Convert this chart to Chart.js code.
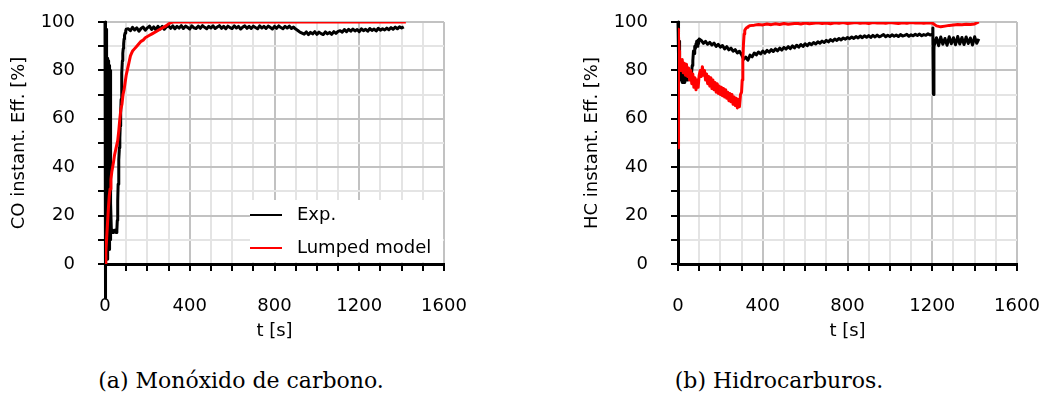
<!DOCTYPE html>
<html>
<head>
<meta charset="utf-8">
<script src="https://cdn.jsdelivr.net/npm/chart.js@4.4.1/dist/chart.umd.min.js"></script>
<style>
  body { margin: 0; background: #fff; width: 1039px; height: 413px; position: relative; overflow: hidden; }
  .panel { position: absolute; top: 0; width: 470px; height: 350px; }
  .caption { position: absolute; top: 368px; font-family: 'DejaVu Serif', serif; font-size: 22px; color: #000;
             white-space: nowrap; transform: translateX(-50%); }
</style>
</head>
<body>
<div class="panel" style="left:0"><canvas id="coChart"></canvas></div>
<div class="panel" style="left:573px"><canvas id="hcChart"></canvas></div>
<div class="caption" style="left:241px">(a) Monóxido de carbono.</div>
<div class="caption" style="left:779px">(b) Hidrocarburos.</div>
<script>
// ---- CO instantaneous efficiency [%] ----
// measured: start-up transient, then a steady run sampled every 10 s from 110 s
const coExpTime = [0,1,2,3,4,5,6,7,8,9,10,11,12,13,14,15,16,17,18,19,20,21,22,23,24,25,
  26,28,30,33,36,40,44,48,52,56,58,60,62,64,66,68,70,72,74,76,78,80,82,84,86,88,90,92,95,98,100];
const coExpEff = [100,40,-14,-5,70,97,92,50,5,60, 85,80,15,2,55,84,78,20,8,62, 82,40,6,45,80,60,
  10,25,14,13,14,13,13.5,14,13,14, 18,26,33,38,43,48,52,57,62,68, 74,79,84,87,89,91,93,94.5,95.5,96.5, 97];
const coExpSteady = [
  97.2, 96.4, 97.8, 96.7, 97.6, 96.2, 97.3, 97.9, 96.6, 97.6,
  98.3, 96.9, 98.0, 96.8, 98.2, 97.1, 98.2, 97.0, 98.0, 98.4,
  97.4, 98.4, 97.2, 98.2, 97.5, 98.5, 97.3, 98.3, 97.8, 97.1,
  98.4, 97.6, 97.3, 98.3, 97.4, 98.5, 97.8, 97.2, 98.2, 97.5,
  98.4, 97.3, 97.9, 98.5, 97.4, 98.2, 97.2, 98.3, 97.7, 97.3,
  98.4, 97.5, 98.2, 97.1, 97.9, 98.4, 97.4, 98.2, 97.3, 98.3,
  97.7, 97.2, 98.4, 97.5, 98.2, 97.3, 98.3, 97.8, 97.1, 98.2,
  97.4, 98.4, 97.7, 97.2, 98.2, 97.5, 98.3, 97.3, 97.9, 97.1,
  96.5, 95.8, 95.4, 95.0, 95.9, 94.8, 95.7, 95.1, 96.0, 94.9,
  95.8, 95.2, 94.8, 95.9, 95.1, 95.7, 94.9, 96.0, 95.3, 96.1,
  96.4, 95.8, 96.9, 96.0, 97.0, 96.2, 97.1, 96.3, 96.9, 96.0,
  97.2, 96.4, 97.0, 96.2, 97.3, 96.5, 97.1, 96.3, 97.4, 96.6,
  97.2, 96.7, 97.5, 96.8, 97.7, 97.0, 97.9, 97.2, 98.0, 97.5,
  98.0];

// lumped model
const coModelTime = [0,4,8,12,16,20,24,28,32,36, 40,45,50,55,60,65,70,75,80,85,
  90,95,100,105,110,115,120,125,130,140, 150,160,170,180,190,200,210,220,230,240,
  250,260,270,280,290,300,310,320,330,340, 1420];
const coModelEff = [0,5,11,17,23,28,31,35,38,40, 42,45,47,49,51,55,60,64,66,70,
  72,75,78,80,82,84,86,87,88,89, 90,91,92,92.5,93.5,94,94.5,95,95.5,96,
  96.5,97,97.5,98,98.5,99.2,99.7,100,100,100, 100];

// ---- HC instantaneous efficiency [%] ----
const hcExpTime = [0,1,2,3,4,5,6,7,8,9, 10,12,14,16,18,20,22,24,26,28,30,32,34,36,38,40,
  43,46,49,52,55,58,61,64,67,70,73,76,79,82,85,88,91,94,97,100];
const hcExpEff = [100,97,90,95,86,92,80,88,77,84, 79,76,82,78,80,75,79,77,81,76,78,75,79,76,80,77,
  79,76,80,78,79,77,80,79,82,84,88,87,90,89,91,92,90,92.5,91,93];
// every 10 s from 110 s to 1200 s
const hcExpSteady = [
  92.4, 91.2, 92.0, 90.8, 91.6, 90.5, 91.3, 89.9, 90.8, 89.6,
  90.3, 88.9, 89.8, 88.5, 89.2, 87.9, 88.6, 87.2, 87.9, 86.5,
  84.6, 85.5, 84.2, 86.3, 85.6, 87.2, 86.4, 87.6, 86.8, 88.0,
  87.1, 88.3, 87.5, 88.6, 87.8, 88.9, 88.1, 89.2, 88.4, 89.5,
  88.8, 89.8, 89.0, 90.1, 89.3, 90.4, 89.6, 90.7, 89.9, 91.0,
  90.2, 91.2,
  90.6, 91.5, 90.9, 91.8, 91.2, 92.1, 91.5, 92.4, 91.8, 92.7,
  92.1, 93.0, 92.4, 93.2, 92.6, 93.4, 92.9, 93.6, 93.1, 93.8,
  93.2, 94.0, 93.4, 94.2, 93.5, 94.3, 93.7, 94.4, 93.6, 94.5,
  93.8, 94.6, 93.9, 94.3, 94.8, 93.9, 94.5, 94.0, 94.7, 94.1,
  94.6, 94.0, 94.8, 94.2, 94.5, 94.9, 94.1, 94.7, 94.3, 94.9,
  94.4, 95.0, 94.3, 94.8, 94.5, 95.1, 94.6, 95.0];
const hcExpDropTime = [1203, 1206, 1208, 1209];
const hcExpDropEff = [97.5, 70, 88, 92];
// every 10 s from 1210 s
const hcExpTail = [90.5, 93.5, 90.2, 93.8, 90.8, 93.2, 90.4, 93.9, 91.0, 93.5, 90.6,
  94.0, 90.9, 93.6, 90.7, 93.8, 91.1, 93.4, 90.5, 93.9, 91.2, 93.0];

const hcModelTime = [0,1,2,3,4,5,6,7,8,9];
const hcModelEff = [48,60,80,97,94,88,84,80,85,82];
// every 5 s from 10 s to 300 s
const hcModelEarly = [
  84, 80, 84.5, 79, 83, 78, 82.5, 77.5, 81, 76,
  80, 74.5, 78.5, 73, 77, 72, 76, 73, 78, 80,
  77.5, 81.5, 78, 80, 76, 78.5, 74.5, 77.5, 73.5, 77,
  72.5, 76, 72, 75, 71, 74.5, 70.5, 73.5, 70, 73,
  69.5, 72.5, 69, 72, 68.5, 71, 67.5, 70.5, 67, 70,
  66, 69, 65.5, 68.5, 64.5, 68, 65, 70, 71];
const hcModelRiseTime = [303,306,309,312,315,318,322,326,330,335,340];
const hcModelRiseEff = [76,84,91,95,96.5,97,97.5,97.8,98,98.3,98.5];
// every 20 s from 360 s to 1420 s
const hcModelLate = [
  98.7, 99.0, 98.8, 99.2, 98.9, 99.3, 99.0, 99.4, 99.1, 99.3,
  99.5, 99.2, 99.6, 99.3, 99.5, 99.7, 99.4, 99.6, 99.3, 99.7,
  99.5, 99.8, 99.4, 99.6, 99.8, 99.5, 99.7, 99.4, 99.8, 99.6,
  99.7, 99.5, 99.8, 99.6, 99.4, 99.7, 99.5, 99.8, 99.6, 99.7,
  99.5, 99.7, 99.6, 98.4, 98.0, 98.3, 98.6, 98.8, 99.0, 98.9,
  99.1, 99.0, 99.2, 100];

const xTicks = [0, 400, 800, 1200, 1600];
const yTicks = [0, 20, 40, 60, 80, 100];

const pairs = (ts, vs) => ts.map((t, i) => ({ x: t, y: vs[i] }));
const steps = (t0, dt, vs) => vs.map((v, i) => ({ x: t0 + i * dt, y: v }));

const coExp = pairs(coExpTime, coExpEff).concat(steps(110, 10, coExpSteady));
const coModel = pairs(coModelTime, coModelEff);
const hcExp = pairs(hcExpTime, hcExpEff)
  .concat(steps(110, 10, hcExpSteady))
  .concat(pairs(hcExpDropTime, hcExpDropEff))
  .concat(steps(1210, 10, hcExpTail));
const hcModel = pairs(hcModelTime, hcModelEff)
  .concat(steps(10, 5, hcModelEarly))
  .concat(pairs(hcModelRiseTime, hcModelRiseEff))
  .concat(steps(360, 20, hcModelLate));

Chart.defaults.font.family = "'DejaVu Sans', sans-serif";
Chart.defaults.font.size = 18;
Chart.defaults.color = '#000';

// legend sits inside the plot, lower right, on a white patch
const insideLegend = {
  id: 'insideLegend',
  beforeDatasetsDraw(chart, args, opts) {
    if (!opts.display) return;
    const { ctx, chartArea: a } = chart;
    const left = a.right - 194, top = a.bottom - 64;
    ctx.save();
    ctx.fillStyle = '#fff';
    ctx.fillRect(left, top, a.right - 1 - left, a.bottom - 2 - top);
    ctx.font = "18px 'DejaVu Sans'";
    ctx.textBaseline = 'middle';
    chart.data.datasets.forEach((ds, i) => {
      const y = top + 15 + i * 33;
      ctx.strokeStyle = ds.borderColor;
      ctx.lineWidth = 2;
      ctx.beginPath();
      ctx.moveTo(left, y);
      ctx.lineTo(left + 32, y);
      ctx.stroke();
      ctx.fillStyle = '#000';
      ctx.fillText(ds.label, left + 47, y);
    });
    ctx.restore();
  }
};

function gridColor(major) {
  return ctx => {
    const v = ctx.tick.value;
    if (v === 0) return 'rgba(0,0,0,0)';
    return v % major === 0 ? '#c2c2c2' : '#e4e4e4';
  };
}

function makeChart(id, yTitle, exp, model, withLegend) {
  return new Chart(document.getElementById(id), {
    type: 'line',
    data: {
      datasets: [
        { label: 'Exp.', data: exp, borderColor: '#000', borderWidth: 3, order: 1, clip: false },
        { label: 'Lumped model', data: model, borderColor: '#ff0000', borderWidth: 3, order: 0 }
      ]
    },
    options: {
      responsive: true,
      maintainAspectRatio: false,
      animation: false,
      events: [],
      layout: { padding: { top: 22, right: 26, left: 0, bottom: 0 } },
      elements: {
        point: { radius: 0 },
        line: { tension: 0, borderJoinStyle: 'round', fill: false }
      },
      scales: {
        x: {
          type: 'linear', min: 0, max: 1600,
          afterFit: s => { s.height = 86; s.paddingLeft = 0; s.paddingRight = 0; },
          afterBuildTicks: s => { s.ticks = Array.from({ length: 17 }, (_, i) => ({ value: i * 100 })); },
          ticks: {
            autoSkip: false, maxRotation: 0, padding: 25,
            callback: v => xTicks.includes(v) ? String(v) : ''
          },
          grid: { color: gridColor(400), lineWidth: 2, tickColor: '#000', tickLength: 7, tickWidth: 2 },
          border: { color: '#000', width: 3 },
          title: { display: true, text: 't [s]', padding: { top: 0, bottom: 8 } }
        },
        y: {
          min: 0, max: 100,
          afterFit: s => { s.width = 105; s.paddingTop = 0; s.paddingBottom = 0; },
          afterBuildTicks: s => { s.ticks = Array.from({ length: 11 }, (_, i) => ({ value: i * 10 })); },
          ticks: {
            autoSkip: false, padding: 23,
            callback: v => yTicks.includes(v) ? String(v) : ''
          },
          grid: { color: gridColor(20), lineWidth: 2, tickColor: '#000', tickLength: 7, tickWidth: 2 },
          border: { color: '#000', width: 3 },
          title: { display: true, text: yTitle, padding: { top: 9, bottom: 0 } }
        }
      },
      plugins: {
        legend: { display: false },
        tooltip: { enabled: false },
        insideLegend: { display: withLegend }
      }
    },
    plugins: [insideLegend]
  });
}

makeChart('coChart', 'CO instant. Eff. [%]', coExp, coModel, true);
makeChart('hcChart', 'HC instant. Eff. [%]', hcExp, hcModel, false);
</script>
</body>
</html>
